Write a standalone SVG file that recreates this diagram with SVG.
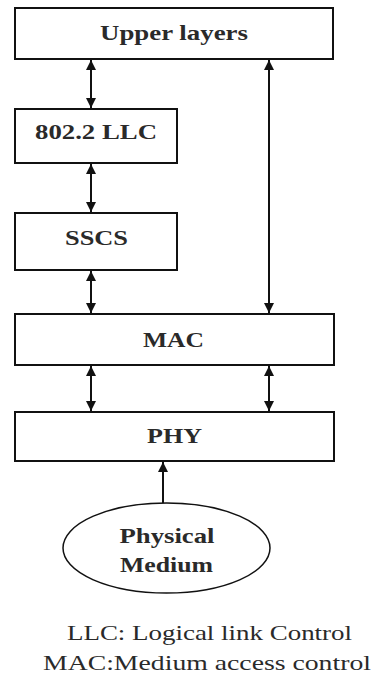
<svg xmlns="http://www.w3.org/2000/svg" width="372" height="684" viewBox="0 0 372 684">
<defs>
<marker id="ah" viewBox="0 0 10 10" refX="10" refY="5" markerWidth="10" markerHeight="10" markerUnits="userSpaceOnUse" orient="auto-start-reverse">
<path d="M0,0 L10,5 L0,10 Z" fill="#111"/>
</marker>
<style>
.box{fill:#fff;stroke:#111;stroke-width:2}
text{font-family:"Liberation Serif",Tinos,"Times New Roman",Times,"DejaVu Serif",serif}
.lbl{font-weight:bold;font-size:22px;fill:#2a2a2a;text-anchor:middle}
.leg{font-size:22px;fill:#2a2a2a;text-anchor:middle}
.con{stroke:#111;stroke-width:2;fill:none}
</style>
</defs>
<rect width="372" height="684" fill="#fff"/>
<g id="upper"><rect class="box" x="15" y="8" width="318" height="51"/><text class="lbl" x="174" y="40" textLength="148" lengthAdjust="spacingAndGlyphs">Upper layers</text></g>
<g id="llc"><rect class="box" x="15" y="109" width="162" height="54"/><text class="lbl" x="96" y="139" textLength="122" lengthAdjust="spacingAndGlyphs">802.2 LLC</text></g>
<g id="sscs"><rect class="box" x="15" y="213" width="162" height="57"/><text class="lbl" x="96.5" y="245" textLength="63" lengthAdjust="spacingAndGlyphs">SSCS</text></g>
<g id="mac"><rect class="box" x="15" y="314" width="319" height="51"/><text class="lbl" x="173.5" y="347" textLength="61" lengthAdjust="spacingAndGlyphs">MAC</text></g>
<g id="phy"><rect class="box" x="15" y="412" width="319" height="49"/><text class="lbl" x="174.5" y="443" textLength="55" lengthAdjust="spacingAndGlyphs">PHY</text></g>
<g id="medium"><ellipse cx="166.5" cy="548" rx="103.5" ry="45" fill="#fff" stroke="#111" stroke-width="1.5"/><text class="lbl" x="167" y="543" textLength="95" lengthAdjust="spacingAndGlyphs">Physical</text><text class="lbl" x="166.5" y="572" textLength="93" lengthAdjust="spacingAndGlyphs">Medium</text></g>
<g id="legend">
<text class="leg" x="209.5" y="640" textLength="285" lengthAdjust="spacingAndGlyphs">LLC: Logical link Control</text>
<text class="leg" x="207" y="670" textLength="328" lengthAdjust="spacingAndGlyphs">MAC:Medium access control</text>
</g>
<g id="connectors">
<line class="con" x1="91" y1="60" x2="91" y2="108" marker-start="url(#ah)" marker-end="url(#ah)"/>
<line class="con" x1="91" y1="164" x2="91" y2="212" marker-start="url(#ah)" marker-end="url(#ah)"/>
<line class="con" x1="91" y1="271" x2="91" y2="313" marker-start="url(#ah)" marker-end="url(#ah)"/>
<line class="con" x1="269" y1="60" x2="269" y2="313" marker-start="url(#ah)" marker-end="url(#ah)"/>
<line class="con" x1="91" y1="366" x2="91" y2="411" marker-start="url(#ah)" marker-end="url(#ah)"/>
<line class="con" x1="269" y1="366" x2="269" y2="411" marker-start="url(#ah)" marker-end="url(#ah)"/>
<line class="con" x1="163" y1="503" x2="163" y2="462" marker-end="url(#ah)"/>
</g>
</svg>
